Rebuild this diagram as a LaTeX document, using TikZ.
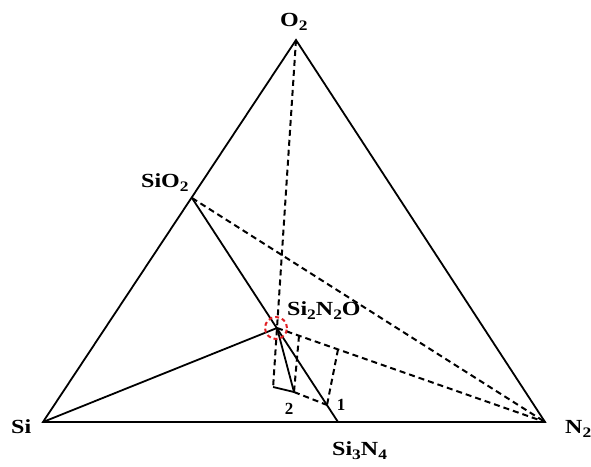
\documentclass[tikz,border=0pt]{standalone}
\usepackage{graphicx}
\usepackage{fontspec}
\setmainfont{Liberation Serif}
\definecolor{ringred}{RGB}{225,30,35}
\newcommand\wide[1]{\scalebox{1.2}[1]{#1}}
\newcommand\subx[1]{\raisebox{-4.5pt}{\fontsize{14.5}{14.5}\selectfont #1}}
\tikzset{
  edge/.style={line width=1.8pt, line join=miter},
  dashline/.style={line width=2pt, dash pattern=on 6pt off 4pt},
  lbl/.style={inner sep=0pt, font=\fontsize{20}{22}\selectfont\bfseries},
  numlbl/.style={inner sep=0pt, font=\fontsize{17}{19}\selectfont\bfseries},
  ring/.style={draw=ringred, line width=2pt, dash pattern=on 4pt off 3pt, circle, minimum size=22pt, inner sep=0pt}
}
\begin{document}
\begin{tikzpicture}[x=1pt,y=-1pt]
\useasboundingbox (0,0) rectangle (591,466);
% vertices and points
\coordinate (Si) at (43,422);
\coordinate (N2) at (545,422);
\coordinate (O2) at (296,40);
\coordinate (SiO2) at (192,198);
\coordinate (SNO) at (277,328);
\coordinate (SN) at (338,422);
\coordinate (P2) at (294,392);
\coordinate (P1) at (327,405);
\coordinate (A) at (299,335.7);
\coordinate (C) at (338,349.4);
\coordinate (B) at (273.1,387);
% triangle
\draw[edge] (Si) -- (O2) -- (N2) -- cycle;
% solid tie lines
\draw[edge] (SiO2) -- (SN);
\draw[edge] (Si) -- (SNO);
\draw[edge] (SNO) -- (P2);
\draw[edge] (B) -- (P2);
% dashed lines
\draw[dashline] (O2) -- (B);
\draw[dashline] (SiO2) -- (N2);
\draw[dashline] (SNO) -- (N2);
\draw[dashline] (A) -- (P2);
\draw[dashline] (C) -- (P1);
\draw[dashline] (P2) -- (P1);
% red ring
\node[ring] (rg) at (276,328) {};
% labels
\node[lbl, anchor=base west] (lO2) at (280,26) {\wide{O\subx{2}}};
\node[lbl, anchor=base west] (lSiO2) at (141,187) {\wide{SiO\subx{2}}};
\node[lbl, anchor=base west] (lSNO) at (287,315) {\wide{Si\subx{2}N\subx{2}O}};
\node[lbl, anchor=base west] (lSi) at (11,433) {\wide{Si}};
\node[lbl, anchor=base west] (lN2) at (565,433) {\wide{N\subx{2}}};
\node[lbl, anchor=base west] (lSN) at (332,455) {\wide{Si\subx{3}N\subx{4}}};
\node[numlbl] (l2) at (289,409) {2};
\node[numlbl] (l1) at (341,405) {1};
\end{tikzpicture}
\end{document}
